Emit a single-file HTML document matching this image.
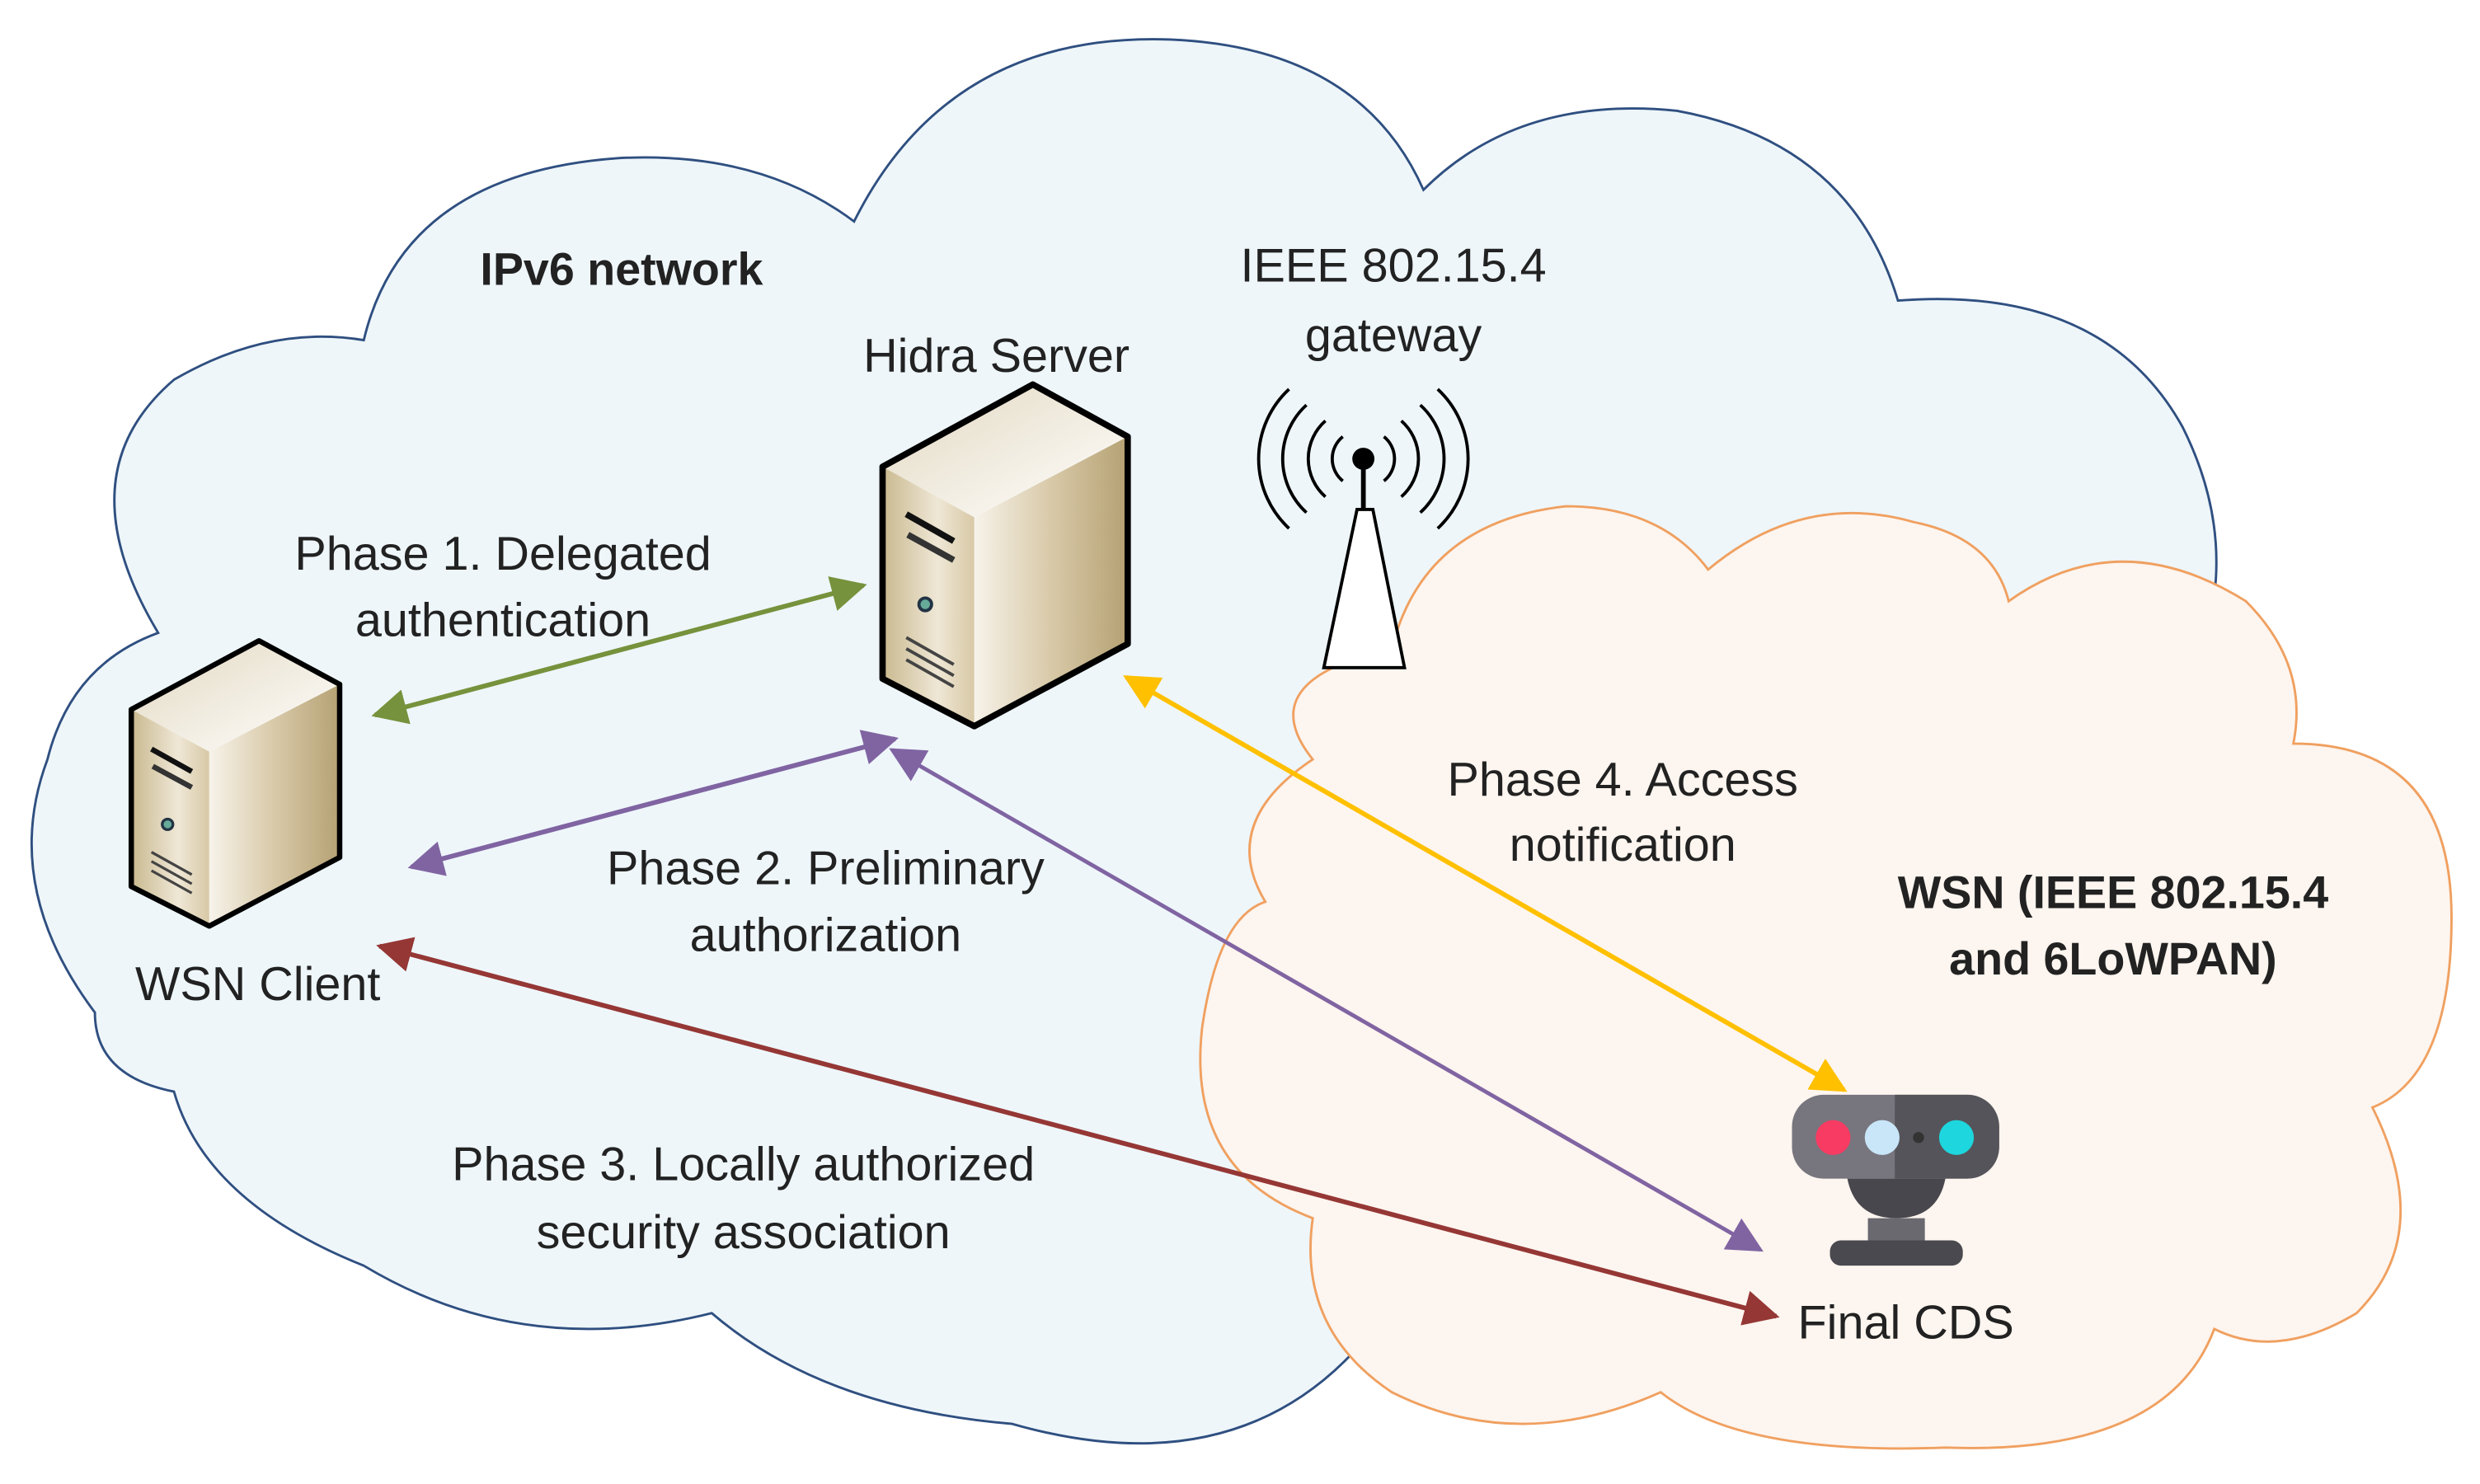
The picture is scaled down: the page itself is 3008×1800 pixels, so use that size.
<!DOCTYPE html>
<html><head><meta charset="utf-8"><style>
html,body{margin:0;padding:0;background:#fff;}
svg{display:block;}
text{font-family:"Liberation Sans",sans-serif;fill:#222;}
</style></head><body>
<svg width="3008" height="1800" viewBox="0 0 1568 938" preserveAspectRatio="none" xmlns="http://www.w3.org/2000/svg">
<defs>
<linearGradient id="fr" x1="0" x2="1" y1="0" y2="0"><stop offset="0" stop-color="#c9b98f"/><stop offset="0.6" stop-color="#efe7d6"/><stop offset="1" stop-color="#d8c9a6"/></linearGradient>
<linearGradient id="sd" x1="0" x2="1" y1="0" y2="0"><stop offset="0" stop-color="#f7f3ea"/><stop offset="0.5" stop-color="#d8c9a8"/><stop offset="1" stop-color="#b5a173"/></linearGradient>
<linearGradient id="tp" x1="0" x2="1" y1="0" y2="1"><stop offset="0" stop-color="#e2d8c0"/><stop offset="1" stop-color="#ffffff"/></linearGradient>
<g id="srv">
<polygon points="0,52 95,0 155,33 58,84" fill="url(#tp)"/>
<polygon points="0,52 58,84 58,216 0,186" fill="url(#fr)"/>
<polygon points="58,84 155,33 155,164 58,216" fill="url(#sd)"/>
<polygon points="0,52 95,0 155,33 155,164 58,216 0,186" fill="none" stroke="#000" stroke-width="4" stroke-linejoin="round"/>
<line x1="15" y1="82" x2="45" y2="99" stroke="#111" stroke-width="4"/>
<line x1="16" y1="95" x2="45" y2="111" stroke="#333" stroke-width="4"/>
<circle cx="27" cy="139" r="4" fill="#6a9" stroke="#234" stroke-width="2"/>
<line x1="15" y1="160" x2="45" y2="177" stroke="#444" stroke-width="2"/>
<line x1="15" y1="167" x2="45" y2="184" stroke="#444" stroke-width="2"/>
<line x1="15" y1="174" x2="45" y2="191" stroke="#444" stroke-width="2"/>
</g>
<marker id="mg" viewBox="0 0 10 10" refX="9" refY="5" markerWidth="7.5" markerHeight="7.5" orient="auto-start-reverse"><path d="M0,0 L10,5 L0,10 z" fill="#76923c"/></marker>
<marker id="mp" viewBox="0 0 10 10" refX="9" refY="5" markerWidth="7.5" markerHeight="7.5" orient="auto-start-reverse"><path d="M0,0 L10,5 L0,10 z" fill="#8064a2"/></marker>
<marker id="mp2" viewBox="0 0 10 10" refX="9" refY="5" markerWidth="9" markerHeight="9" orient="auto-start-reverse"><path d="M0,0 L10,5 L0,10 z" fill="#8064a2"/></marker>
<marker id="mb" viewBox="0 0 10 10" refX="9" refY="5" markerWidth="7.5" markerHeight="7.5" orient="auto-start-reverse"><path d="M0,0 L10,5 L0,10 z" fill="#953735"/></marker>
<marker id="my" viewBox="0 0 10 10" refX="9" refY="5" markerWidth="7.5" markerHeight="7.5" orient="auto-start-reverse"><path d="M0,0 L10,5 L0,10 z" fill="#ffc000"/></marker>
</defs>
<rect width="1568" height="938" fill="#fff"/>
<path d="M60,640 Q0,560 30,480 Q45,420 100,400 Q40,300 110,240 Q170,205 230,215 Q255,110 390,100 Q480,95 540,140 Q600,20 740,25 Q860,30 900,120 Q960,60 1060,70 Q1170,90 1200,190 Q1330,180 1380,270 Q1420,350 1385,430 L1300,700 Q900,900 860,850 Q780,940 640,900 Q520,890 450,830 Q330,860 230,800 Q130,760 110,690 Q60,680 60,640 Z" fill="#eef6fa" stroke="#2f4f80" stroke-width="1.5"/>
<path d="M830,480 Q790,430 880,410 Q900,330 990,320 Q1050,320 1080,360 Q1140,310 1210,330 Q1260,340 1270,380 Q1340,330 1420,380 Q1460,420 1450,470 Q1550,470 1550,580 Q1550,680 1500,700 Q1540,780 1490,830 Q1440,860 1400,840 Q1370,920 1230,915 Q1100,920 1050,880 Q960,920 880,880 Q820,840 830,770 Q750,740 760,650 Q770,580 800,570 Q770,520 830,480 Z" fill="#fdf5ef" stroke="#f0a060" stroke-width="1.5"/>
<use href="#srv" x="558" y="243"/>
<use href="#srv" transform="translate(83,405) scale(0.85,0.835)"/>
<polygon points="837,422 858,322 868,322 888,422" fill="#fff" stroke="#000" stroke-width="2"/>
<line x1="862" y1="290" x2="862" y2="322" stroke="#000" stroke-width="3"/>
<circle cx="862" cy="290" r="7" fill="#000"/>
<g fill="none" stroke="#000" stroke-width="2">
<path d="M849,276 A18,18 0 0,0 849,304"/><path d="M875,276 A18,18 0 0,1 875,304"/>
<path d="M838,266 A32,32 0 0,0 838,314"/><path d="M886,266 A32,32 0 0,1 886,314"/>
<path d="M826,256 A46,46 0 0,0 826,324"/><path d="M898,256 A46,46 0 0,1 898,324"/>
<path d="M815,246 A60,60 0 0,0 815,334"/><path d="M909,246 A60,60 0 0,1 909,334"/>
</g>
<rect x="1133" y="692" width="131" height="53" rx="20" fill="#77757e"/>
<path d="M1198,692 H1244 A20,20 0 0 1 1264,712 V725 A20,20 0 0 1 1244,745 H1198 Z" fill="#55545a"/>
<path d="M1168,745 H1230 Q1225,770 1199,770 Q1173,770 1168,745 Z" fill="#48474d"/>
<rect x="1181" y="770" width="36" height="15" fill="#6a6970"/>
<rect x="1157" y="784" width="84" height="16" rx="7" fill="#4a494f"/>
<circle cx="1159" cy="719" r="11" fill="#f83b62"/>
<circle cx="1190" cy="719" r="11" fill="#c8e6f8"/>
<circle cx="1213" cy="719" r="3.5" fill="#333"/>
<circle cx="1237" cy="719" r="11" fill="#1ed6dd"/>
<line x1="237" y1="452" x2="546" y2="370" stroke="#76923c" stroke-width="3" marker-start="url(#mg)" marker-end="url(#mg)"/>
<line x1="260" y1="548" x2="566" y2="467" stroke="#8064a2" stroke-width="3" marker-start="url(#mp)" marker-end="url(#mp)"/>
<line x1="564" y1="474" x2="1113" y2="790" stroke="#8064a2" stroke-width="2.5" marker-start="url(#mp2)" marker-end="url(#mp2)"/>
<line x1="240" y1="598" x2="1123" y2="832" stroke="#953735" stroke-width="3" marker-start="url(#mb)" marker-end="url(#mb)"/>
<line x1="712" y1="428" x2="1166" y2="689" stroke="#ffc000" stroke-width="3" marker-start="url(#my)" marker-end="url(#my)"/>
<g font-size="30">
<text x="393" y="180" text-anchor="middle" font-weight="bold" font-size="29">IPv6 network</text>
<text x="630" y="235" text-anchor="middle">Hidra Server</text>
<text x="881" y="178" text-anchor="middle">IEEE 802.15.4</text>
<text x="881" y="222" text-anchor="middle">gateway</text>
<text x="318" y="360" text-anchor="middle">Phase 1. Delegated</text>
<text x="318" y="402" text-anchor="middle">authentication</text>
<text x="522" y="559" text-anchor="middle">Phase 2.  Preliminary</text>
<text x="522" y="601" text-anchor="middle">authorization</text>
<text x="470" y="746" text-anchor="middle">Phase 3.  Locally authorized</text>
<text x="470" y="789" text-anchor="middle">security association</text>
<text x="1026" y="503" text-anchor="middle">Phase 4. Access</text>
<text x="1026" y="544" text-anchor="middle">notification</text>
<text x="1336" y="574" text-anchor="middle" font-weight="bold" font-size="29">WSN (IEEE 802.15.4</text>
<text x="1336" y="616" text-anchor="middle" font-weight="bold" font-size="29">and 6LoWPAN)</text>
<text x="163" y="632" text-anchor="middle">WSN Client</text>
<text x="1205" y="846" text-anchor="middle">Final CDS</text>
</g>
</svg>
</body></html>
